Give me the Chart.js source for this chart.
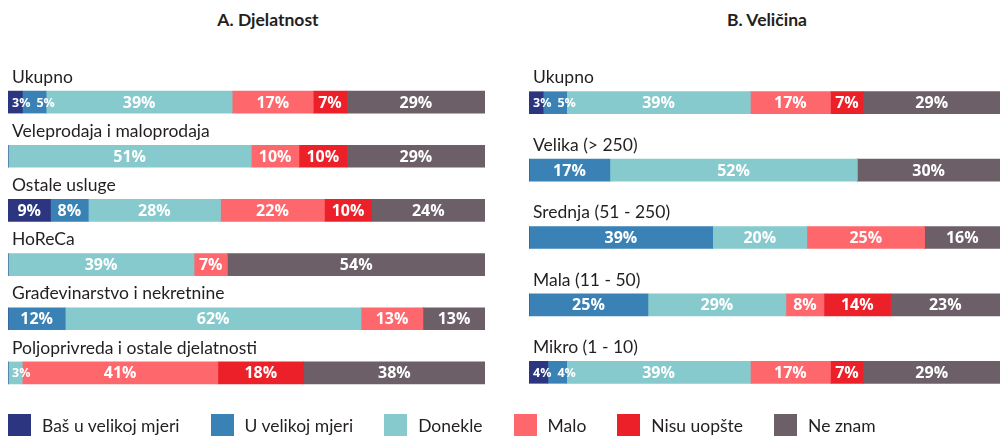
<!DOCTYPE html>
<html>
<head>
<meta charset="utf-8">
<script src="https://cdn.jsdelivr.net/npm/chart.js@4.4.1/dist/chart.umd.min.js"></script>
<style>
    body { margin: 0; background: #fff; font-family: Lato, sans-serif; color: #231f20; }
    #page { position: relative; width: 1001px; height: 436px; overflow: hidden; }
    canvas { position: absolute; top: 0; }
    .title { position: absolute; top: 9px; font: bold 17.5px Lato, sans-serif; text-align: center; }
    #legend { position: absolute; left: 8px; top: 414px; display: flex; gap: 31px; font-size: 17.5px; }
    .item { display: flex; align-items: center; height: 23px; }
    .box { width: 23px; height: 23px; margin-right: 11px; }
</style>
</head>
<body>
<div id="page">
    <div class="title" style="left: 168px; width: 200px;">A. Djelatnost</div>
    <div class="title" style="left: 667px; width: 200px;">B. Veličina</div>
    <canvas id="chartA" width="495" height="436" style="left: 0;"></canvas>
    <canvas id="chartB" width="501" height="436" style="left: 500px;"></canvas>
    <div id="legend"></div>
</div>
<script>
// Series (answer options) and colours
const seriesNames = ['Baš u velikoj mjeri', 'U velikoj mjeri', 'Donekle', 'Malo', 'Nisu uopšte', 'Ne znam'];
const seriesColors = ['#2b3580', '#3a82b5', '#86cacd', '#fe676b', '#ec2028', '#6c5f68'];

// A. Djelatnost
const catsA = ['Ukupno', 'Veleprodaja i maloprodaja', 'Ostale usluge', 'HoReCa', 'Građevinarstvo i nekretnine', 'Poljoprivreda i ostale djelatnosti'];
const basUVelikojA = [3, 0, 9, 0, 0, 0];
const uVelikojA    = [5, 0, 8, 0, 12, 0];
const donekleA     = [39, 51, 28, 39, 62, 3];
const maloA        = [17, 10, 22, 7, 13, 41];
const nisuA        = [7, 10, 10, 0, 0, 18];
const neZnamA      = [29, 29, 24, 54, 13, 38];

// B. Veličina
const catsB = ['Ukupno', 'Velika (> 250)', 'Srednja (51 - 250)', 'Mala (11 - 50)', 'Mikro (1 - 10)'];
const basUVelikojB = [3, 0, 0, 0, 4];
const uVelikojB    = [5, 17, 39, 25, 4];
const donekleB     = [39, 52, 20, 29, 39];
const maloB        = [17, 0, 25, 8, 17];
const nisuB        = [7, 0, 0, 14, 7];
const neZnamB      = [29, 30, 16, 23, 29];

// Legend
const legend = document.getElementById('legend');
seriesNames.forEach(function(name, i) {
    const item = document.createElement('div');
    item.className = 'item';
    item.innerHTML = '<div class="box" style="background:' + seriesColors[i] + '"></div>' + name;
    legend.appendChild(item);
});

// Labels above bars and values inside segments
const barLabels = {
    id: 'barLabels',
    afterDatasetsDraw(chart) {
        const ctx = chart.ctx;
        const raw = chart.options.rawValues;
        ctx.save();
        // category names
        ctx.fillStyle = '#231f20';
        ctx.font = '17.5px Lato, sans-serif';
        ctx.textAlign = 'left';
        ctx.textBaseline = 'middle';
        chart.data.labels.forEach(function(label, j) {
            const bar = chart.getDatasetMeta(0).data[j];
            ctx.fillText(label, chart.chartArea.left + 4, bar.y - 25);
        });
        // values, small ones pushed right so they do not overlap
        ctx.fillStyle = '#fff';
        ctx.textAlign = 'left';
        chart.data.labels.forEach(function(label, j) {
            let lastEnd = -Infinity;
            chart.data.datasets.forEach(function(ds, i) {
                const bar = chart.getDatasetMeta(i).data[j];
                const v = raw[i][j];
                if (!v) return;
                ctx.font = (v < 6 ? 'bold 12.5px' : 'bold 16px') + ' "Open Sans", sans-serif';
                const text = v + '%';
                const w = ctx.measureText(text).width;
                const left = Math.min(bar.x, bar.base);
                const segW = Math.abs(bar.x - bar.base);
                let x = left + (segW - w) / 2;
                if (w + 4 > segW) x = left + 4;
                x = Math.max(x, lastEnd + 6);
                ctx.fillText(text, x, bar.y + 1);
                lastEnd = x + w;
            });
        });
        ctx.restore();
    }
};

function makeChart(id, cats, rows, padding) {
    // each bar is drawn as share of its own row total
    const totals = cats.map(function(c, j) {
        return rows.reduce(function(s, r) { return s + r[j]; }, 0);
    });
    new Chart(document.getElementById(id), {
        type: 'bar',
        data: {
            labels: cats,
            datasets: rows.map(function(r, i) {
                return {
                    label: seriesNames[i],
                    data: r.map(function(v, j) { return v / totals[j] * 100; }),
                    backgroundColor: seriesColors[i],
                    borderWidth: 0,
                    barThickness: 22
                };
            })
        },
        options: {
            indexAxis: 'y',
            responsive: false,
            animation: false,
            rawValues: rows,
            layout: { padding: padding },
            plugins: { legend: { display: false }, tooltip: { enabled: false } },
            scales: {
                x: { stacked: true, min: 0, max: 100, display: false },
                y: { stacked: true, display: false }
            }
        },
        plugins: [barLabels]
    });
}

makeChart('chartA', catsA, [basUVelikojA, uVelikojA, donekleA, maloA, nisuA, neZnamA],
    { left: 8, right: 10, top: 75, bottom: 36 });
makeChart('chartB', catsB, [basUVelikojB, uVelikojB, donekleB, maloB, nisuB, neZnamB],
    { left: 29, right: 1, top: 69, bottom: 30 });
</script>
</body>
</html>
